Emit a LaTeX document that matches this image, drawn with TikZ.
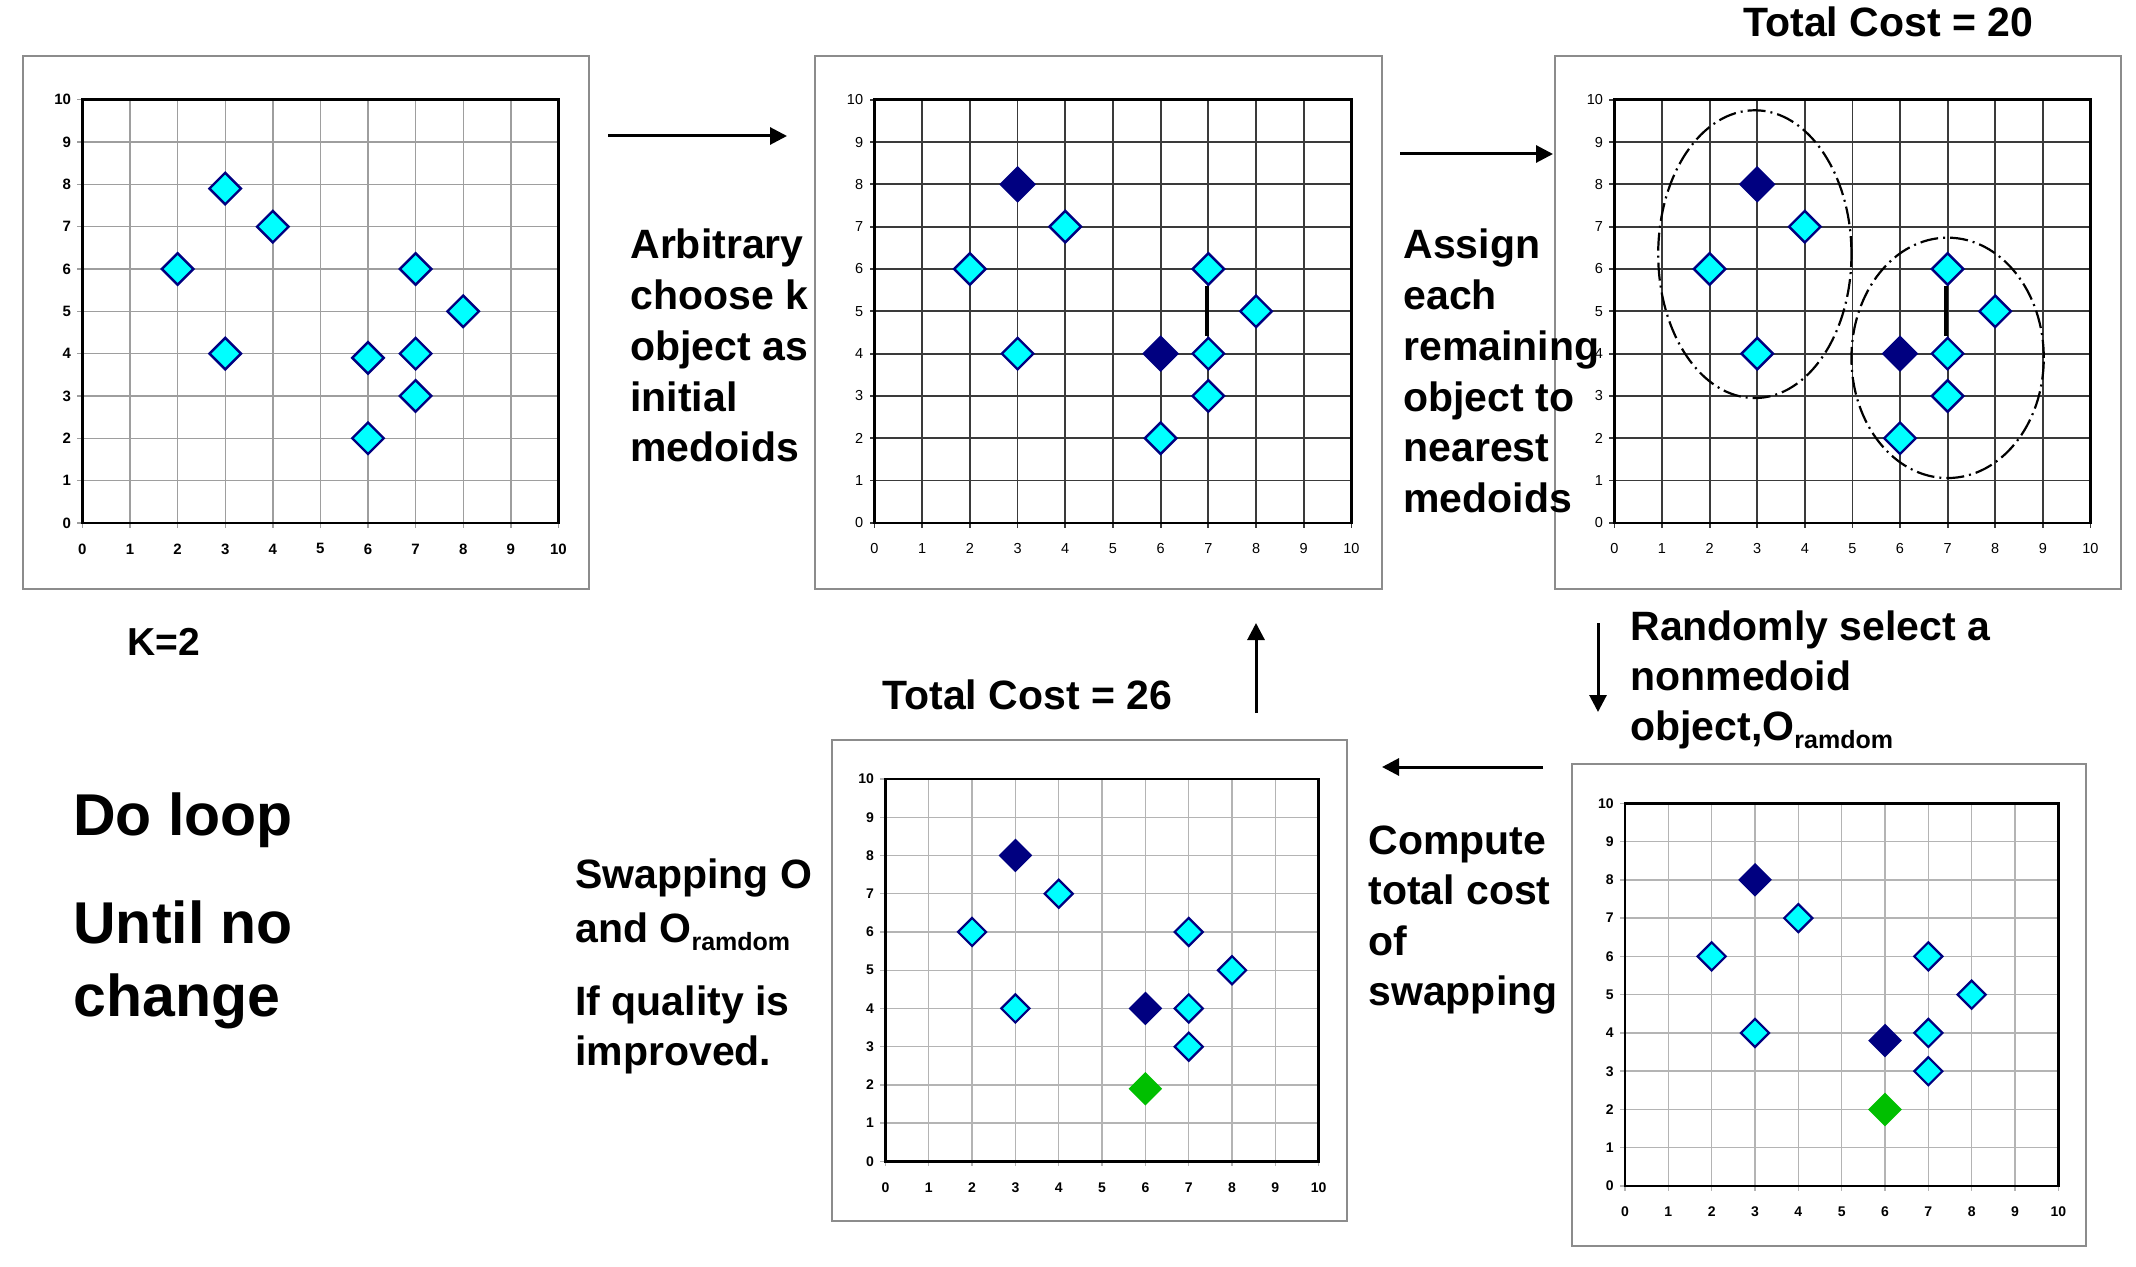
\documentclass[tikz,border=0pt]{standalone}
\usepackage{fontspec}
\setmainfont{Liberation Sans}
\usetikzlibrary{arrows.meta,shapes.geometric}
\definecolor{cyanfill}{HTML}{00FFFF}
\definecolor{navy}{HTML}{000080}
\definecolor{greenfill}{HTML}{00BF00}
\definecolor{framegray}{HTML}{8C8C8C}
\definecolor{gridcolA}{HTML}{9E9E9E}
\definecolor{gridcolB}{HTML}{3A3A3A}
\definecolor{gridcolC}{HTML}{B4B4B4}
\tikzset{
  panelframe/.style={draw=framegray, line width=0.9pt},
  plotborder/.style={draw=black, line width=1.4pt},
  gridstyleA/.style={draw=gridcolA, line width=0.7pt},
  gridstyleB/.style={draw=gridcolB, line width=0.9pt},
  gridstyleC/.style={draw=gridcolC, line width=0.7pt},
  ticklabA/.style={font=\bfseries\fontsize{7.5pt}{9pt}\selectfont, inner sep=0pt},
  ticklabB/.style={font=\fontsize{7.25pt}{9pt}\selectfont, inner sep=0pt},
  ticklabC/.style={font=\bfseries\fontsize{7pt}{9pt}\selectfont, inner sep=0pt},
  dia/.style={shape=diamond, inner sep=0pt, minimum width=#1, minimum height=#1},
  cyT/.style={dia=16.25pt, fill=cyanfill, draw=navy, line width=1.2pt},
  nvT/.style={dia=18.5pt, fill=navy, draw=none},
  cyB/.style={dia=14.5pt, fill=cyanfill, draw=navy, line width=1.1pt},
  nvB/.style={dia=17pt, fill=navy, draw=none},
  grB/.style={dia=17pt, fill=greenfill, draw=none},
  link/.style={draw=black, line width=2pt},
  clusterline/.style={draw=black, line width=1.1pt, dash pattern=on 9pt off 2.5pt on 1pt off 2.5pt},
  txt/.style={font=\bfseries\fontsize{20.5pt}{24pt}\selectfont, anchor=base west, inner sep=0pt},
  bigtxt/.style={font=\bfseries\fontsize{29.5pt}{34pt}\selectfont, anchor=base west, inner sep=0pt},
  ktxt/.style={font=\bfseries\fontsize{19.5pt}{23pt}\selectfont, anchor=base west, inner sep=0pt},
  arr/.style={draw=black, line width=1.5pt, -{Triangle[length=8.5pt,width=8.5pt]}},
}
\newcommand\kaxes[3]{%
  \foreach \i in {1,...,9}{\draw[#1] (\i,0) -- (\i,10); \draw[#1] (0,\i) -- (10,\i);}
  \foreach \i in {0,...,10}{%
    \draw[#1] (\i,0) -- ++(0pt,-2.5pt);
    \draw[#1] (0,\i) -- ++(-2.5pt,0pt);
    \node[#2, anchor=east, xshift=-5.5pt] (#3y\i) at (0,\i) {\i};
    \node[#2, yshift=-13pt] (#3x\i) at (\i,0) {\i};
  }
  \draw[plotborder] (0,0) rectangle (10,10);
}
\newcommand\ksub[1]{\raisebox{-4.25pt}{\fontsize{12.5pt}{14pt}\selectfont #1}}
\begin{document}
\begin{tikzpicture}[x=0.5pt,y=-0.5pt]
\fill[white] (0,0) rectangle (2136,1267);
\useasboundingbox (0,0) rectangle (2136,1267);

% ---------- Panel 1 ----------
\draw[panelframe] (23,56) rectangle (589,589);
\begin{scope}[shift={(82.4,522.9)}, x=23.8pt, y=21.16pt]
  \kaxes{gridstyleA}{ticklabA}{p1}
  \foreach \x/\y [count=\k] in {3/7.9,4/7,2/6,7/6,8/5,3/4,6/3.9,7/4,7/3,6/2}
    \node[cyT] (p1c\k) at (\x,\y) {};
\end{scope}

% ---------- Panel 2 ----------
\draw[panelframe] (815,56) rectangle (1382,589);
\begin{scope}[shift={(874.5,522.9)}, x=23.845pt, y=21.16pt]
  \kaxes{gridstyleB}{ticklabB}{p2}
  \foreach \x/\y [count=\k] in {3/8,6/4}
    \node[nvT] (p2n\k) at (\x,\y) {};
  \foreach \x/\y [count=\k] in {2/6,4/7,3/4,7/6,8/5,7/4,7/3,6/2}
    \node[cyT] (p2c\k) at (\x,\y) {};
  \draw[link] ([xshift=-0.7pt]p2c4.south) -- ([xshift=-0.7pt]p2c6.north);
\end{scope}

% ---------- Panel 3 ----------
\draw[panelframe] (1555,56) rectangle (2121,589);
\begin{scope}[shift={(1614.4,522.9)}, x=23.8pt, y=21.16pt]
  \kaxes{gridstyleB}{ticklabB}{p3}
  \draw[clusterline] (2.95,6.35) ellipse [x radius=2.03, y radius=3.4];
  \draw[clusterline] (7.0,3.9) ellipse [x radius=2.02, y radius=2.84];
  \foreach \x/\y [count=\k] in {3/8,6/4}
    \node[nvT] (p3n\k) at (\x,\y) {};
  \foreach \x/\y [count=\k] in {2/6,4/7,3/4,7/6,8/5,7/4,7/3,6/2}
    \node[cyT] (p3c\k) at (\x,\y) {};
  \draw[link] ([xshift=-0.7pt]p3c4.south) -- ([xshift=-0.7pt]p3c6.north);
\end{scope}

% ---------- Panel 4 (bottom middle) ----------
\draw[panelframe] (832,740) rectangle (1347,1221);
\begin{scope}[shift={(885.4,1161.4)}, x=21.665pt, y=19.12pt]
  \kaxes{gridstyleC}{ticklabC}{p4}
  \foreach \x/\y [count=\k] in {3/8,6/4}
    \node[nvB] (p4n\k) at (\x,\y) {};
  \foreach \x/\y [count=\k] in {4/7,2/6,7/6,8/5,3/4,7/4,7/3}
    \node[cyB] (p4c\k) at (\x,\y) {};
  \node[grB] (p4g) at (6,1.9) {};
\end{scope}

% ---------- Panel 5 (bottom right) ----------
\draw[panelframe] (1572,764) rectangle (2086,1246);
\begin{scope}[shift={(1625,1186)}, x=21.665pt, y=19.135pt]
  \kaxes{gridstyleC}{ticklabC}{p5}
  \foreach \x/\y [count=\k] in {3/8,6/3.8}
    \node[nvB] (p5n\k) at (\x,\y) {};
  \foreach \x/\y [count=\k] in {4/7,2/6,7/6,8/5,3/4,7/4,7/3}
    \node[cyB] (p5c\k) at (\x,\y) {};
  \node[grB] (p5g) at (6,2) {};
\end{scope}

% ---------- Arrows ----------
\coordinate (a1s) at (608,136);  \coordinate (a1e) at (787,136);
\coordinate (a2s) at (1400,154); \coordinate (a2e) at (1553,154);
\coordinate (a3s) at (1598,623); \coordinate (a3e) at (1598,712);
\coordinate (a4s) at (1543,767); \coordinate (a4e) at (1382,767);
\coordinate (a5s) at (1256,713); \coordinate (a5e) at (1256,623);
\draw[arr] (a1s) -- (a1e);
\draw[arr] (a2s) -- (a2e);
\draw[arr] (a3s) -- (a3e);
\draw[arr] (a4s) -- (a4e);
\draw[arr] (a5s) -- (a5e);

% ---------- Texts ----------
\node[txt] (tc20) at (1743,37) {Total Cost = 20};
\node[txt] (tc26) at (882,709) {Total Cost = 26};

\node[txt] (arb1) at (630,259)   {Arbitrary};
\node[txt] (arb2) at (630,309.7) {choose k};
\node[txt] (arb3) at (630,360.4) {object as};
\node[txt] (arb4) at (630,411.1) {initial};
\node[txt] (arb5) at (630,461.8) {medoids};

\node[txt] (asg1) at (1403,259)   {Assign};
\node[txt] (asg2) at (1403,309.7) {each};
\node[txt] (asg3) at (1403,360.4) {remaining};
\node[txt] (asg4) at (1403,411.1) {object to};
\node[txt] (asg5) at (1403,461.8) {nearest};
\node[txt] (asg6) at (1403,512.5) {medoids};

\node[txt] (rnd1) at (1630,640) {Randomly select a};
\node[txt] (rnd2) at (1630,690) {nonmedoid};
\node[txt] (rnd3) at (1630,740) {object,O\ksub{ramdom}};

\node[txt] (cmp1) at (1368,854)  {Compute};
\node[txt] (cmp2) at (1368,904)  {total cost};
\node[txt] (cmp3) at (1368,955)  {of};
\node[txt] (cmp4) at (1368,1005) {swapping};

\node[txt] (swp1) at (575,888)  {Swapping O};
\node[txt] (swp2) at (575,942)  {and O\ksub{ramdom}};
\node[txt] (swp3) at (575,1015) {If quality is};
\node[txt] (swp4) at (575,1065) {improved.};

\node[ktxt] (k2) at (127,655) {K=2};

\node[bigtxt] (loop1) at (73,835)  {Do loop};
\node[bigtxt] (loop2) at (73,943)  {Until no};
\node[bigtxt] (loop3) at (73,1016) {change};
\end{tikzpicture}
\end{document}
